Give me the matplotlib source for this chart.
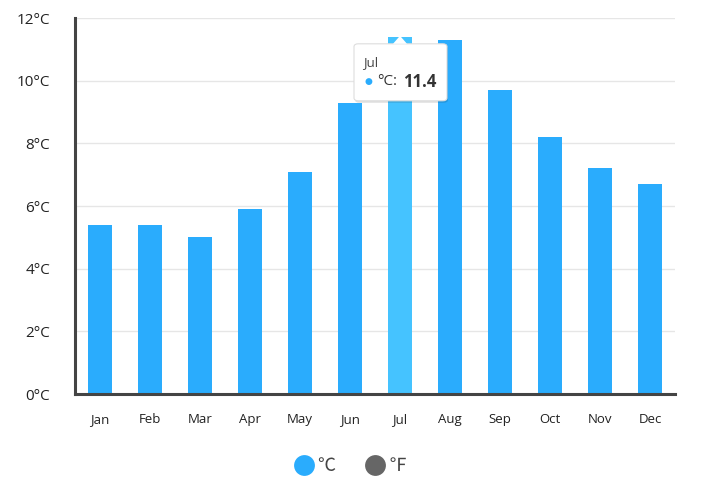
import matplotlib
matplotlib.use('Agg')
import matplotlib.pyplot as plt
from matplotlib.patches import FancyBboxPatch, Polygon
from matplotlib.lines import Line2D

plt.rcParams['font.family'] = ['Open Sans', 'DejaVu Sans']

# --- Data ---
months = ['Jan', 'Feb', 'Mar', 'Apr', 'May', 'Jun',
          'Jul', 'Aug', 'Sep', 'Oct', 'Nov', 'Dec']
temp_c = [5.4, 5.4, 5.0, 5.9, 7.1, 9.3, 11.4, 11.3, 9.7, 8.2, 7.2, 6.7]
y_ticks = [0, 2, 4, 6, 8, 10, 12]
highlight = 'Jul'

BAR_COLOR = '#2aacfd'
HOVER_COLOR = '#45c3ff'
GRAY = '#666666'

fig = plt.figure(figsize=(7.03, 4.91), dpi=100)
ax = fig.add_axes([75 / 703, 97 / 491, 600 / 703, 376 / 491])

colors = [HOVER_COLOR if m == highlight else BAR_COLOR for m in months]
x = list(range(len(months)))
ax.bar(x, temp_c, width=0.49, color=colors, zorder=2)

ax.set_xlim(-0.5, len(months) - 0.5)
ax.set_ylim(0, 12)
ax.set_yticks(y_ticks)
ax.set_yticklabels([f'{t}°C' for t in y_ticks], fontsize=11, color='#222222')
ax.set_xticks(x)
ax.set_xticklabels(months, fontsize=9.5, color='#222222')
ax.tick_params(axis='both', length=0)
ax.tick_params(axis='y', pad=18)
ax.tick_params(axis='x', pad=14)

ax.grid(axis='y', color='#e6e6e6', linewidth=1, zorder=0)
for side in ['top', 'right']:
    ax.spines[side].set_visible(False)
for side in ['left', 'bottom']:
    ax.spines[side].set_color('#444444')
    ax.spines[side].set_linewidth(2.2)

# tooltip on the highlighted bar
hi = months.index(highlight)
hx, hy = hi, temp_c[hi]
px, py = ax.transData.transform((hx, hy))
fig_w, fig_h = fig.bbox.width, fig.bbox.height
box_l, box_r = (px - 46) / fig_w, (px + 47) / fig_w
box_t, box_b = (py - 7) / fig_h, (py - 64) / fig_h
shadow = FancyBboxPatch((box_l + 1 / fig_w, box_b - 2 / fig_h), box_r - box_l, box_t - box_b,
                        boxstyle='round,pad=0,rounding_size=0.006',
                        transform=fig.transFigure, facecolor='#000000', alpha=0.12,
                        edgecolor='none', zorder=5)
fig.patches.append(shadow)
box = FancyBboxPatch((box_l, box_b), box_r - box_l, box_t - box_b,
                     boxstyle='round,pad=0,rounding_size=0.006',
                     transform=fig.transFigure, facecolor='white',
                     edgecolor='#dddddd', linewidth=0.8, zorder=6)
fig.patches.append(box)
arrow = Polygon([((px - 7) / fig_w, box_t), ((px + 7) / fig_w, box_t),
                 (px / fig_w, (py + 1) / fig_h)], closed=True,
                transform=fig.transFigure, facecolor='white', edgecolor='none', zorder=7)
fig.patches.append(arrow)

fig.text((px - 37) / fig_w, (py - 26) / fig_h, highlight, fontsize=9.5,
         color='#444444', va='center', zorder=8)
fig.text((px - 36) / fig_w, (py - 45) / fig_h, '●', fontsize=6.5,
         color=BAR_COLOR, va='center', zorder=8)
fig.text((px - 23) / fig_w, (py - 45) / fig_h, '°C:', fontsize=11,
         color='#333333', va='center', zorder=8)
fig.text((px + 3) / fig_w, (py - 45) / fig_h, f'{hy}', fontsize=12,
         color='#333333', va='center', fontweight='bold', zorder=8)

# legend
handles = [Line2D([], [], marker='o', linestyle='none', markersize=15,
                  markerfacecolor=BAR_COLOR, markeredgecolor='none'),
           Line2D([], [], marker='o', linestyle='none', markersize=15,
                  markerfacecolor=GRAY, markeredgecolor='none')]
fig.legend(handles, ['℃', '℉'], loc='center', bbox_to_anchor=(349 / 703, 1 - 466 / 491),
           ncol=2, frameon=False, handletextpad=0.05, handlelength=1.4,
           columnspacing=1.5, labelcolor='#444444',
           prop={'family': ['Noto Sans CJK SC', 'DejaVu Sans'], 'size': 13})

fig.savefig('out.png', dpi=100, facecolor='white')
